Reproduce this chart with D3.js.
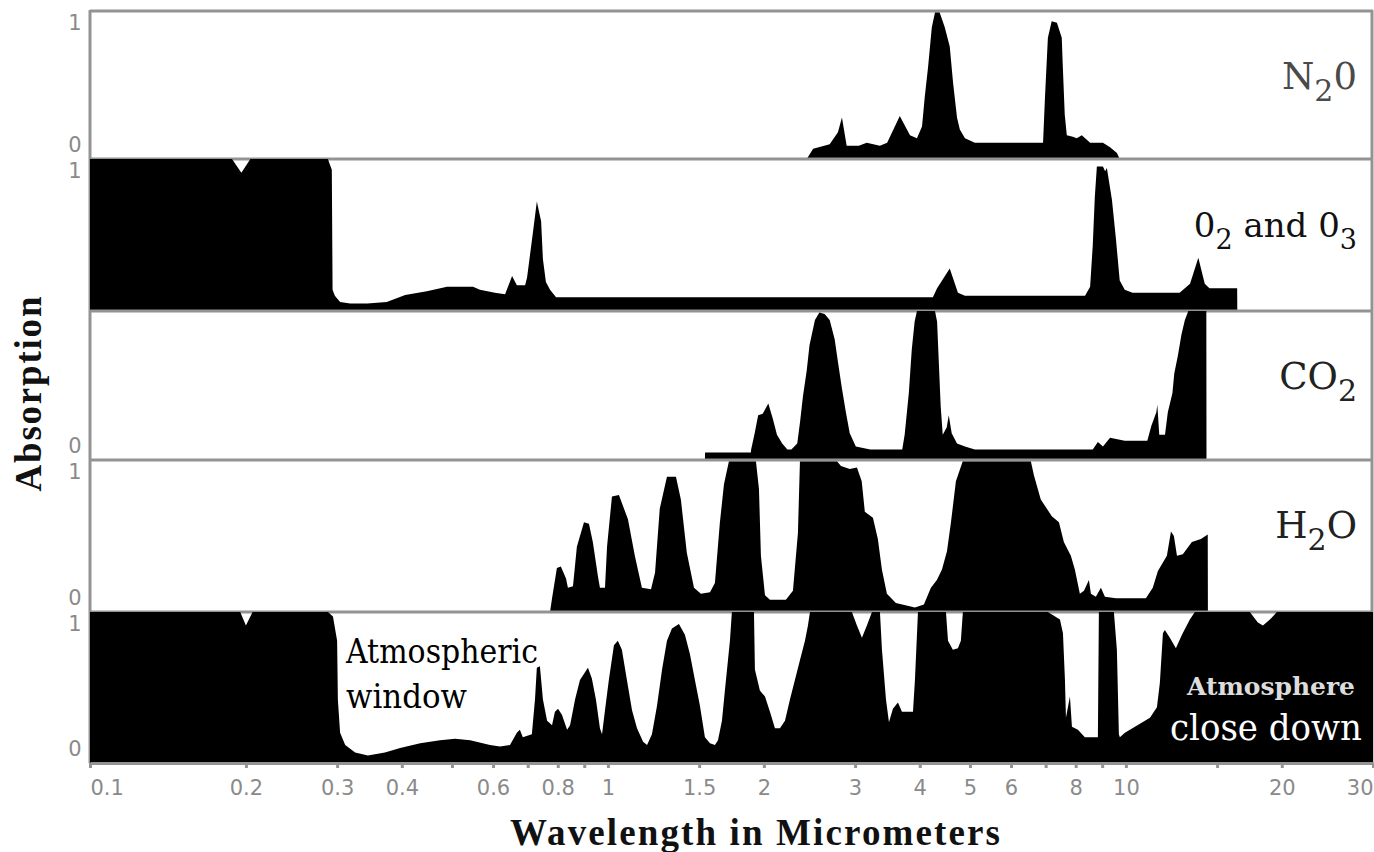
<!DOCTYPE html>
<html lang="en">
<head>
  <meta charset="utf-8"/>
  <title>Atmospheric absorption</title>
  <script src="https://d3js.org/d3.v7.min.js"></script>
  <style>
    body { margin: 0; background: #fff; }
    svg { display: block; }
  </style>
</head>
<body>
<svg id="chart" width="1374" height="852"></svg>
<script>
// absorption (0..1) against wavelength in micrometers

// N2O
const n2oWave = [2.42, 2.49, 2.68, 2.78, 2.83, 2.89, 3.05, 3.16, 3.35, 3.46, 3.66, 3.83, 3.95, 4.04, 4.09,
  4.15, 4.22, 4.28, 4.37, 4.47, 4.57, 4.64, 4.72, 4.78, 4.89, 5.11, 6.92, 6.98, 7.07, 7.19,
  7.36, 7.52, 7.55, 7.62, 7.69, 7.90, 8.04, 8.22, 8.53, 9.03, 9.32, 9.61, 9.73];
const n2oAbs = [0, 0.07, 0.10, 0.18, 0.28, 0.09, 0.09, 0.11, 0.09, 0.11, 0.29, 0.16, 0.14, 0.22, 0.42,
  0.62, 0.89, 0.99, 0.99, 0.89, 0.76, 0.51, 0.28, 0.20, 0.14, 0.11, 0.11, 0.42, 0.82, 0.93,
  0.92, 0.82, 0.65, 0.30, 0.16, 0.15, 0.14, 0.16, 0.11, 0.11, 0.08, 0.04, 0];

// O2 and O3
const o2o3Wave = [0.1, 0.188, 0.196, 0.204, 0.288, 0.290, 0.293, 0.294, 0.297, 0.304, 0.318, 0.343, 0.374,
  0.406, 0.447, 0.489, 0.549, 0.566, 0.605, 0.633, 0.653, 0.667, 0.692, 0.698, 0.716, 0.729,
  0.743, 0.749, 0.759, 0.773, 0.794, 4.24, 4.32, 4.57, 4.74, 4.89, 8.34, 8.53, 8.63, 8.71,
  8.79, 9.03, 9.12, 9.19, 9.40, 9.57, 9.73, 9.95, 10.3, 12.7, 13.3, 13.8, 14.2, 14.5, 16.4, 16.41];
const o2o3Abs = [1, 1, 0.91, 1, 1, 0.97, 0.93, 0.14, 0.10, 0.06, 0.05, 0.05, 0.06,
  0.105, 0.13, 0.16, 0.16, 0.14, 0.12, 0.11, 0.23, 0.17, 0.17, 0.22, 0.51, 0.72,
  0.59, 0.34, 0.19, 0.14, 0.09, 0.09, 0.15, 0.28, 0.12, 0.10, 0.10, 0.16, 0.43, 0.75,
  0.95, 0.95, 0.92, 0.94, 0.73, 0.47, 0.20, 0.14, 0.12, 0.12, 0.18, 0.35, 0.18, 0.15, 0.15, 0];

// CO2
const co2Wave = [1.539, 1.54, 1.888, 1.89, 1.92, 1.95, 1.99, 2.04, 2.08, 2.12, 2.17, 2.22, 2.26, 2.32, 2.35,
  2.38, 2.42, 2.45, 2.51, 2.56, 2.62, 2.68, 2.74, 2.78, 2.83, 2.88, 2.93, 3.01, 3.21, 3.70,
  3.74, 3.81, 3.86, 3.91, 3.95, 4.28, 4.32, 4.39, 4.43, 4.51, 4.55, 4.61, 4.72, 4.89, 5.11,
  8.63, 8.83, 9.03, 9.32, 9.95, 11.0, 11.2, 11.45, 11.5, 11.6, 11.9, 12.05, 12.3, 12.4, 12.6,
  12.8, 13.0, 13.2, 14.3, 14.31];
const co2Abs = [0, 0.05, 0.05, 0.07, 0.18, 0.30, 0.31, 0.38, 0.28, 0.17, 0.11, 0.07, 0.07, 0.11, 0.26,
  0.43, 0.60, 0.77, 0.94, 0.99, 0.98, 0.94, 0.81, 0.66, 0.48, 0.32, 0.18, 0.09, 0.07, 0.07,
  0.17, 0.45, 0.74, 0.93, 1.0, 1.0, 0.93, 0.36, 0.17, 0.22, 0.30, 0.18, 0.11, 0.09, 0.07,
  0.07, 0.12, 0.09, 0.15, 0.13, 0.13, 0.23, 0.32, 0.37, 0.17, 0.17, 0.32, 0.45, 0.58, 0.70,
  0.84, 0.94, 1.0, 1.0, 0];

// H2O
const h2oWave = [0.773, 0.780, 0.797, 0.811, 0.830, 0.837, 0.856, 0.871, 0.899, 0.919, 0.935, 0.957, 0.965,
  0.987, 0.996, 1.018, 1.050, 1.093, 1.127, 1.163, 1.211, 1.233, 1.259, 1.30, 1.353, 1.383,
  1.42, 1.466, 1.512, 1.574, 1.609, 1.645, 1.675, 1.712, 1.931, 1.957, 1.974, 2.01, 2.055,
  2.206, 2.276, 2.327, 2.348, 2.77, 2.818, 2.93, 3.025, 3.09, 3.133, 3.248, 3.32, 3.38,
  3.456, 3.597, 3.915, 4.074, 4.203, 4.316, 4.415, 4.514, 4.595, 4.697, 4.84, 6.556, 6.644,
  6.85, 7.195, 7.426, 7.59, 7.83, 7.97, 8.15, 8.30, 8.485, 8.56, 8.75, 8.95, 9.11, 9.565,
  10.93, 11.27, 11.53, 12.0, 12.22, 12.38, 12.55, 12.88, 13.41, 13.96, 14.39, 14.4];
const h2oAbs = [0, 0.09, 0.29, 0.30, 0.22, 0.16, 0.17, 0.43, 0.59, 0.58, 0.46, 0.23, 0.16,
  0.16, 0.43, 0.76, 0.77, 0.61, 0.37, 0.16, 0.15, 0.26, 0.68, 0.89, 0.89, 0.74,
  0.39, 0.16, 0.12, 0.13, 0.19, 0.59, 0.84, 0.99, 0.99, 0.81, 0.37, 0.11, 0.08,
  0.08, 0.14, 0.52, 0.99, 0.99, 0.96, 0.94, 0.95, 0.86, 0.66, 0.62, 0.48, 0.28,
  0.12, 0.06, 0.03, 0.05, 0.16, 0.21, 0.28, 0.40, 0.59, 0.86, 0.99, 0.99, 0.90,
  0.74, 0.63, 0.59, 0.46, 0.37, 0.28, 0.12, 0.14, 0.21, 0.12, 0.10, 0.16, 0.10, 0.09,
  0.09, 0.16, 0.27, 0.37, 0.53, 0.50, 0.37, 0.38, 0.46, 0.48, 0.51, 0];

// whole atmosphere
const atmWave = [0.1, 0.195, 0.200, 0.206, 0.288, 0.2945, 0.300, 0.301, 0.304, 0.311, 0.325, 0.344, 0.371,
  0.397, 0.434, 0.474, 0.507, 0.542, 0.592, 0.619, 0.647, 0.667, 0.676, 0.685, 0.713, 0.723,
  0.729, 0.739, 0.749, 0.763, 0.780, 0.790, 0.801, 0.815, 0.834, 0.845, 0.864, 0.883, 0.915,
  0.931, 0.948, 0.965, 0.974, 0.987, 1.004, 1.027, 1.045, 1.064, 1.088, 1.113, 1.138, 1.169,
  1.190, 1.216, 1.244, 1.272, 1.300, 1.329, 1.371, 1.408, 1.440, 1.472, 1.505, 1.539, 1.574,
  1.609, 1.631, 1.660, 1.682, 1.705, 1.720, 1.735, 1.914, 1.922, 1.965, 2.010, 2.055, 2.101,
  2.148, 2.197, 2.246, 2.296, 2.348, 2.401, 2.433, 2.455, 2.958, 3.025, 3.093, 3.162, 3.234,
  3.351, 3.381, 3.442, 3.488, 3.550, 3.630, 3.695, 3.881, 3.915, 3.968, 4.494, 4.535, 4.634,
  4.739, 4.802, 4.845, 7.070, 7.459, 7.560, 7.627, 7.661, 7.798, 7.868, 8.079, 8.334, 8.830,
  8.869, 9.481, 9.608, 9.694, 9.737, 9.956, 10.41, 11.13, 11.48, 11.63, 11.79, 11.89, 12.16,
  12.49, 12.83, 13.29, 13.59, 17.35, 17.98, 18.39, 18.97, 19.57, 30];
const atmAbs = [1, 1, 0.91, 1, 1, 0.97, 0.81, 0.42, 0.20, 0.12, 0.07, 0.05, 0.07,
  0.10, 0.13, 0.15, 0.16, 0.15, 0.12, 0.11, 0.12, 0.20, 0.22, 0.17, 0.19, 0.42,
  0.63, 0.64, 0.42, 0.28, 0.25, 0.34, 0.36, 0.32, 0.22, 0.25, 0.42, 0.55, 0.63,
  0.56, 0.42, 0.23, 0.19, 0.35, 0.55, 0.78, 0.81, 0.75, 0.55, 0.35, 0.23, 0.14,
  0.12, 0.19, 0.38, 0.62, 0.81, 0.89, 0.92, 0.85, 0.72, 0.55, 0.38, 0.17, 0.13,
  0.12, 0.15, 0.28, 0.48, 0.68, 0.81, 1, 1, 0.62, 0.48, 0.44, 0.34, 0.23,
  0.23, 0.28, 0.42, 0.55, 0.68, 0.81, 0.91, 1, 1, 0.91, 0.83, 0.91, 1,
  1, 0.75, 0.42, 0.27, 0.36, 0.40, 0.34, 0.34, 0.55, 1, 1, 0.81, 0.75,
  0.76, 0.81, 1, 1, 0.95, 0.86, 0.55, 0.30, 0.44, 0.24, 0.22, 0.17, 0.17,
  1, 1, 0.75, 0.19, 0.17, 0.20, 0.24, 0.30, 0.37, 0.53, 0.86, 0.88, 0.83,
  0.76, 0.85, 0.95, 1, 1, 0.93, 0.91, 0.95, 1, 1];

// x axis ticks
const tickValues = [0.1, 0.2, 0.3, 0.4, 0.5, 0.6, 0.7, 0.8, 0.9, 1, 1.5, 2, 3, 4, 5, 6, 7, 8, 9, 10, 15, 20, 30];
const tickLabels = ["0.1", "0.2", "0.3", "0.4", "", "0.6", "", "0.8", "", "1", "1.5", "2", "3", "4", "5", "6", "", "8", "", "10", "", "20", "30"];

const panels = [
  {wave: n2oWave, abs: n2oAbs, label: ["N", "2", "0"], size: 37, color: "#4a4a4a", ticks: ["1", "0"]},
  {wave: o2o3Wave, abs: o2o3Abs, label: ["0", "2", " and 0", "3"], size: 34, color: "#111", ticks: ["1"]},
  {wave: co2Wave, abs: co2Abs, label: ["CO", "2", ""], size: 37, color: "#222", ticks: ["0"]},
  {wave: h2oWave, abs: h2oAbs, label: ["H", "2", "O"], size: 37, color: "#222", ticks: ["1", "0"]},
  {wave: atmWave, abs: atmAbs, label: null, size: 0, color: null, ticks: ["1", "0"]}
];

const svg = d3.select("#chart");
const grey = "#939393";
const serif = "DejaVu Serif";
const panelEdges = [11, 159, 311, 460, 612, 763];

const x = d3.scaleLog().domain([0.1, 30]).range([90, 1373]);

// frame
svg.append("line").attr("x1", 90).attr("x2", 1373).attr("y1", 11).attr("y2", 11)
  .attr("stroke", grey).attr("stroke-width", 3);
svg.append("line").attr("x1", 90).attr("x2", 90).attr("y1", 10).attr("y2", 763)
  .attr("stroke", grey).attr("stroke-width", 3);
svg.append("line").attr("x1", 1372).attr("x2", 1372).attr("y1", 10).attr("y2", 763)
  .attr("stroke", grey).attr("stroke-width", 3);

panels.forEach(function (p, i) {
  const top = panelEdges[i], bottom = panelEdges[i + 1];
  const y = d3.scaleLinear().domain([0, 1]).range([bottom, top]);
  const pts = d3.zip(p.wave, p.abs);
  const area = d3.area()
    .x(d => x(d[0]))
    .y0(bottom)
    .y1(d => y(d[1]));

  svg.append("path").datum(pts)
    .attr("d", area)
    .attr("fill", "#000");

  if (i < panels.length - 1) {
    svg.append("line").attr("x1", 90).attr("x2", 1373).attr("y1", bottom).attr("y2", bottom)
      .attr("stroke", grey).attr("stroke-width", 3);
  }

  // 0 / 1 marks on the left
  p.ticks.forEach(function (t) {
    svg.append("text")
      .attr("x", 75)
      .attr("y", t == "1" ? y(1) + 19 : y(0) - 7)
      .attr("text-anchor", "middle")
      .attr("font-family", "DejaVu Sans")
      .attr("font-size", 21)
      .attr("fill", "#8a8a8a")
      .text(t);
  });

  if (p.label) {
    const t = svg.append("text")
      .attr("font-family", serif)
      .attr("x", 1357)
      .attr("y", top + 78)
      .attr("text-anchor", "end")
      .attr("font-size", p.size)
      .attr("fill", p.color);
    p.label.forEach(function (s, k) {
      const sub = k % 2 == 1;
      t.append("tspan")
        .attr("font-size", sub ? Math.round(p.size * 0.8) : p.size)
        .attr("dy", k == 0 ? 0 : (sub ? 12 : -12))
        .text(s);
    });
  }
});

// x axis
const axis = d3.axisBottom(x)
  .tickValues(tickValues)
  .tickFormat((d, i) => tickLabels[i])
  .tickSize(5)
  .tickSizeOuter(0);

const gx = svg.append("g").attr("transform", "translate(0,763)").call(axis);
gx.select(".domain").attr("stroke", grey).attr("stroke-width", 3);
gx.selectAll(".tick line").attr("stroke", grey).attr("stroke-width", 3);
gx.selectAll(".tick text")
  .attr("y", 32).attr("dy", null)
  .attr("font-family", "DejaVu Sans")
  .attr("font-size", 21)
  .attr("fill", "#8a8a8a")
  .attr("text-anchor", (d, i) => i == 0 ? "start" : (i == tickValues.length - 1 ? "end" : "middle"));

// titles
svg.append("text")
  .attr("font-family", "Liberation Serif")
  .attr("x", 755).attr("y", 845)
  .attr("text-anchor", "middle")
  .attr("font-weight", "bold")
  .attr("font-size", 37)
  .attr("textLength", 490)
  .attr("lengthAdjust", "spacing")
  .attr("fill", "#111")
  .text("Wavelength in Micrometers");

svg.append("text")
  .attr("font-family", "Liberation Serif")
  .attr("transform", "translate(41,394) rotate(-90)")
  .attr("text-anchor", "middle")
  .attr("font-weight", "bold")
  .attr("font-size", 37)
  .attr("textLength", 195)
  .attr("lengthAdjust", "spacing")
  .attr("fill", "#111")
  .text("Absorption");

// notes in the bottom panel
svg.append("text")
  .attr("font-family", serif)
  .attr("x", 346).attr("y", 663)
  .attr("font-size", 33)
  .attr("textLength", 192)
  .attr("lengthAdjust", "spacingAndGlyphs")
  .attr("fill", "#000")
  .text("Atmospheric");
svg.append("text")
  .attr("font-family", serif)
  .attr("x", 346).attr("y", 708)
  .attr("font-size", 33)
  .attr("textLength", 121)
  .attr("lengthAdjust", "spacingAndGlyphs")
  .attr("fill", "#000")
  .text("window");
svg.append("text")
  .attr("font-family", serif)
  .attr("font-weight", "bold")
  .attr("x", 1187).attr("y", 695)
  .attr("font-size", 24)
  .attr("textLength", 168)
  .attr("lengthAdjust", "spacingAndGlyphs")
  .attr("fill", "#dcdcdc")
  .text("Atmosphere");
svg.append("text")
  .attr("font-family", serif)
  .attr("x", 1170).attr("y", 740)
  .attr("font-size", 35)
  .attr("textLength", 192)
  .attr("lengthAdjust", "spacingAndGlyphs")
  .attr("fill", "#fff")
  .text("close down");
</script>
</body>
</html>
